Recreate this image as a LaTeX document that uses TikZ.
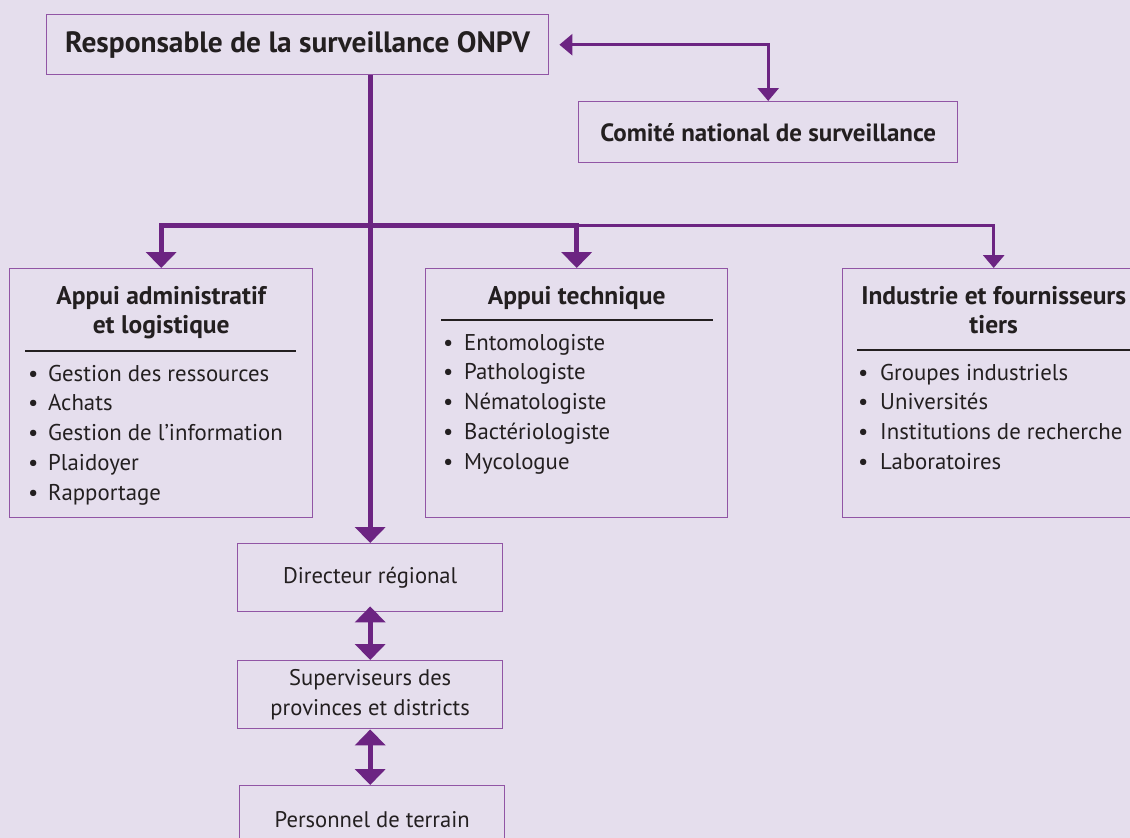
\documentclass[tikz,border=0pt]{standalone}
\usepackage{fontspec}
\setmainfont{PT Sans}
\usetikzlibrary{arrows.meta}
\definecolor{bg}{RGB}{229,222,237}
\definecolor{arr}{RGB}{108,36,130}
\definecolor{brd}{RGB}{145,85,165}
\definecolor{txt}{RGB}{35,31,32}
\begin{document}
\begin{tikzpicture}[x=1pt,y=-1pt,
  box/.style={draw=brd, line width=1.4pt, rectangle, inner sep=0pt, anchor=north west, text=txt, align=center},
  bigtitle/.style={font=\fontsize{29.4}{34}\selectfont\bfseries},
  midtitle/.style={font=\fontsize{25}{30}\selectfont\bfseries},
  sectitle/.style={font=\fontsize{25.5}{29}\selectfont\bfseries, text=txt, anchor=base, inner sep=0pt},
  itm/.style={font=\fontsize{22.8}{30}\selectfont, text=txt, anchor=base west, inner sep=0pt},
  smallbox/.style={box, font=\fontsize{22.6}{30}\selectfont, minimum width=265pt, minimum height=68pt},
  sep/.style={draw=txt, line width=2pt},
  thickarr/.style={draw=arr, line width=5pt, -{Triangle[width=30pt,length=16pt]}},
  thinarr/.style={draw=arr, line width=3pt, -{Triangle[width=21pt,length=13pt]}},
  dblarr/.style={draw=arr, line width=5pt, {Triangle[width=30pt,length=16pt]}-{Triangle[width=30pt,length=16pt]}},
  boththin/.style={draw=arr, line width=3pt, {Triangle[width=21pt,length=13pt]}-{Triangle[width=21pt,length=13pt]}}
]
\fill[bg] (0,0) rectangle (1130,838);
\useasboundingbox (0,0) rectangle (1130,838);

% top boxes
\node[box, bigtitle, minimum width=502pt, minimum height=60pt] (top) at (46,14) {Responsable de la surveillance ONPV};
\node[box, midtitle, minimum width=379pt, minimum height=61pt] (com) at (578,101) {Comité national de surveillance};

% three section boxes
\node[box, minimum width=303pt, minimum height=249pt] (adm) at (9,268) {};
\node[box, minimum width=302pt, minimum height=249pt] (tec) at (425,268) {};
\node[box, minimum width=302pt, minimum height=249pt] (ind) at (842,268) {};

% lower chain
\node[smallbox] (dir) at (237,543) {Directeur régional};
\node[smallbox] (sup) at (237,660) {Superviseurs des\\provinces et districts};
\node[smallbox] (per) at (239,785) {Personnel de terrain};

% section titles
\node[sectitle] (admt1) at (adm.north |- 0,304) {Appui administratif};
\node[sectitle] (admt2) at (adm.north |- 0,333) {et logistique};
\node[sectitle] (tect) at (tec.north |- 0,304) {Appui technique};
\node[sectitle] (indt1) at (ind.north |- 0,304) {Industrie et fournisseurs};
\node[sectitle] (indt2) at (ind.north |- 0,333) {tiers};

% separators
\draw[sep] (25,351) -- (296,351);
\draw[sep] (441,320) -- (713,320);
\draw[sep] (857,350) -- (1135,350);

% items
\foreach \t [count=\i] in {Gestion des ressources, Achats, Gestion de l’information, Plaidoyer, Rapportage}{
  \node[itm] (ab\i) at (28,{381+29.8*(\i-1)}) {\textbullet};
  \node[itm] (a\i) at (48,{381+29.8*(\i-1)}) {\t};
}
\foreach \t [count=\i] in {Entomologiste, Pathologiste, Nématologiste, Bactériologiste, Mycologue}{
  \node[itm] (tb\i) at (443,{350+29.8*(\i-1)}) {\textbullet};
  \node[itm] (t\i) at (464,{350+29.8*(\i-1)}) {\t};
}
\foreach \t [count=\i] in {Groupes industriels, Universités, Institutions de recherche, Laboratoires}{
  \node[itm] (ib\i) at (858,{380+29.8*(\i-1)}) {\textbullet};
  \node[itm] (i\i) at (880,{380+29.8*(\i-1)}) {\t};
}

% connectors
\draw[boththin] ([xshift=10pt]top.east) -| (com.north);
\coordinate (bj) at (dir.north |- 0,225);
\draw[thickarr] (dir.north |- top.south) -- (dir.north);
\draw[thickarr] (bj) -| (adm.north);
\draw[thickarr] (bj) -| (tec.north);
\draw[thinarr] (tec.north |- bj) -| (ind.north);
\draw[dblarr] ([yshift=6pt]dir.south) -- (sup.north);
\draw[dblarr] (sup.south) -- (sup.south |- per.north);
\end{tikzpicture}
\end{document}
